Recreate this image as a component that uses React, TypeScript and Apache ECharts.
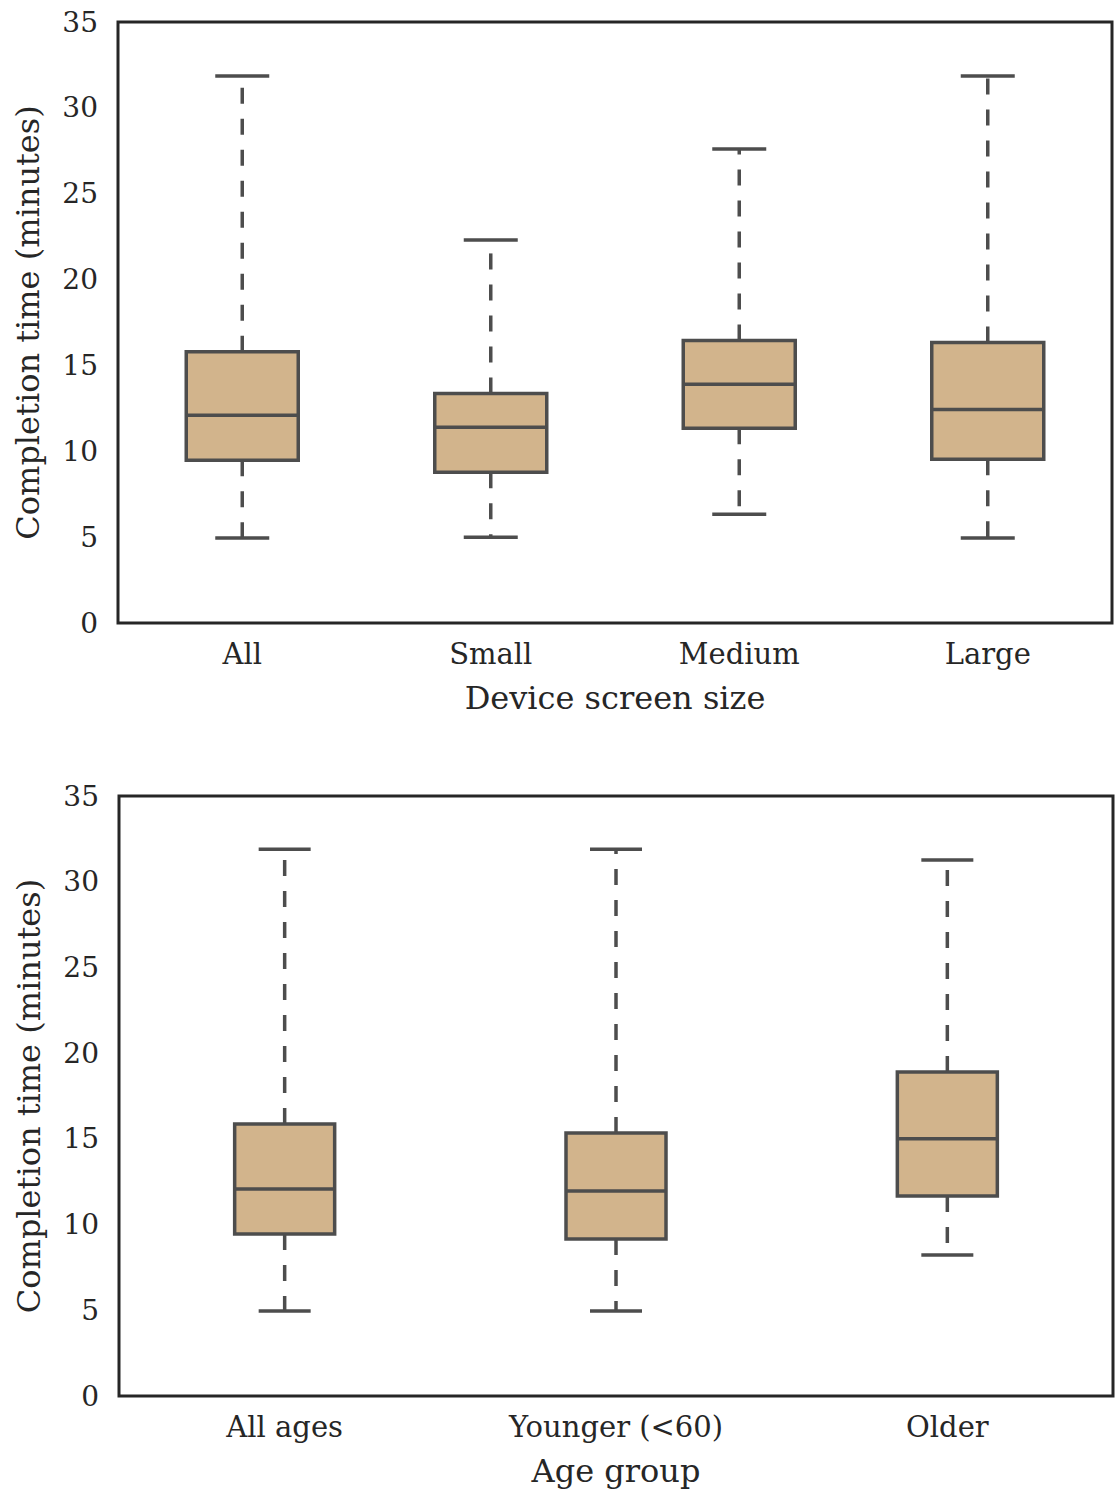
import React, { useEffect, useRef } from "react";
import * as echarts from "echarts";

const deviceCategories = ["All", "Small", "Medium", "Large"];
// [min, q1, median, q3, max]
const deviceStats = [
  [4.95, 9.48, 12.1, 15.8, 31.86],
  [5.0, 8.78, 11.4, 13.37, 22.3],
  [6.34, 11.34, 13.9, 16.45, 27.6],
  [4.95, 9.53, 12.44, 16.34, 31.86],
];

const ageCategories = ["All ages", "Younger (<60)", "Older"];
const ageStats = [
  [4.96, 9.45, 12.08, 15.87, 31.9],
  [4.96, 9.16, 11.96, 15.34, 31.9],
  [8.23, 11.67, 15.0, 18.9, 31.27],
];

const yTicks = [0, 5, 10, 15, 20, 25, 30, 35];

const FONT = "DejaVu Serif";
const EDGE = "#4d4d4d";
const FILL = "#d2b48c";
const LW = 3.5;

function makeRenderItem(boxWidth: number, capHalf: number) {
  return (params: any, api: any) => {
    const x = api.value(0);
    const pMin = api.coord([x, api.value(1)]);
    const pQ1 = api.coord([x, api.value(2)]);
    const pMed = api.coord([x, api.value(3)]);
    const pQ3 = api.coord([x, api.value(4)]);
    const pMax = api.coord([x, api.value(5)]);
    const cx = pMed[0];
    const hw = boxWidth / 2;
    const lineStyle = { stroke: EDGE, lineWidth: LW, fill: "none" };
    const dashStyle = { stroke: EDGE, lineWidth: LW, lineDash: [16, 15], fill: "none" };
    return {
      type: "group",
      children: [
        { type: "line", shape: { x1: cx, y1: pQ3[1], x2: cx, y2: pMax[1] }, style: dashStyle },
        { type: "line", shape: { x1: cx, y1: pQ1[1], x2: cx, y2: pMin[1] }, style: dashStyle },
        { type: "line", shape: { x1: cx - capHalf, y1: pMax[1], x2: cx + capHalf, y2: pMax[1] }, style: lineStyle },
        { type: "line", shape: { x1: cx - capHalf, y1: pMin[1], x2: cx + capHalf, y2: pMin[1] }, style: lineStyle },
        {
          type: "rect",
          shape: { x: cx - hw, y: pQ3[1], width: boxWidth, height: pQ1[1] - pQ3[1] },
          style: { fill: FILL, stroke: EDGE, lineWidth: LW },
        },
        { type: "line", shape: { x1: cx - hw, y1: pMed[1], x2: cx + hw, y2: pMed[1] }, style: lineStyle },
      ],
    };
  };
}

function yAxisCfg(gridIndex: number) {
  return {
    type: "value",
    gridIndex,
    min: yTicks[0],
    max: yTicks[yTicks.length - 1],
    interval: 5,
    name: "Completion time (minutes)",
    nameLocation: "middle",
    nameGap: 74,
    nameTextStyle: { fontFamily: FONT, fontSize: 32, color: "#262626" },
    axisLine: { show: false },
    axisTick: { show: false },
    splitLine: { show: false },
    axisLabel: { fontFamily: FONT, fontSize: 28, color: "#262626", margin: 20 },
  };
}

function xAxisCfg(gridIndex: number, cats: string[], name: string) {
  return {
    type: "category",
    gridIndex,
    data: cats,
    name,
    nameLocation: "middle",
    nameGap: 59,
    nameTextStyle: { fontFamily: FONT, fontSize: 32, color: "#262626" },
    axisLine: { show: false },
    axisTick: { show: false },
    splitLine: { show: false },
    axisLabel: { fontFamily: FONT, fontSize: 29, color: "#262626", margin: 16 },
  };
}

export default function App() {
  const ref = useRef<HTMLDivElement>(null);
  useEffect(() => {
    document.body.style.margin = "0";
    if (!ref.current) return;
    const chart = echarts.init(ref.current, null, { renderer: "svg" });
    chart.setOption({
      animation: false,
      backgroundColor: "#ffffff",
      grid: [
        { left: 118, top: 22, width: 994, height: 601, show: true, borderColor: "#262626", borderWidth: 3, backgroundColor: "transparent" },
        { left: 119, top: 796, width: 994, height: 600, show: true, borderColor: "#262626", borderWidth: 3, backgroundColor: "transparent" },
      ],
      xAxis: [
        xAxisCfg(0, deviceCategories, "Device screen size"),
        xAxisCfg(1, ageCategories, "Age group"),
      ],
      yAxis: [yAxisCfg(0), yAxisCfg(1)],
      series: [
        {
          type: "custom",
          xAxisIndex: 0,
          yAxisIndex: 0,
          renderItem: makeRenderItem(112, 27),
          encode: { x: 0, y: [1, 2, 3, 4, 5] },
          data: deviceStats.map((s, i) => [i, ...s]),
        },
        {
          type: "custom",
          xAxisIndex: 1,
          yAxisIndex: 1,
          renderItem: makeRenderItem(100, 26),
          encode: { x: 0, y: [1, 2, 3, 4, 5] },
          data: ageStats.map((s, i) => [i, ...s]),
        },
      ],
    });
    return () => chart.dispose();
  }, []);
  return <div ref={ref} style={{ width: 1119, height: 1490 }} />;
}
